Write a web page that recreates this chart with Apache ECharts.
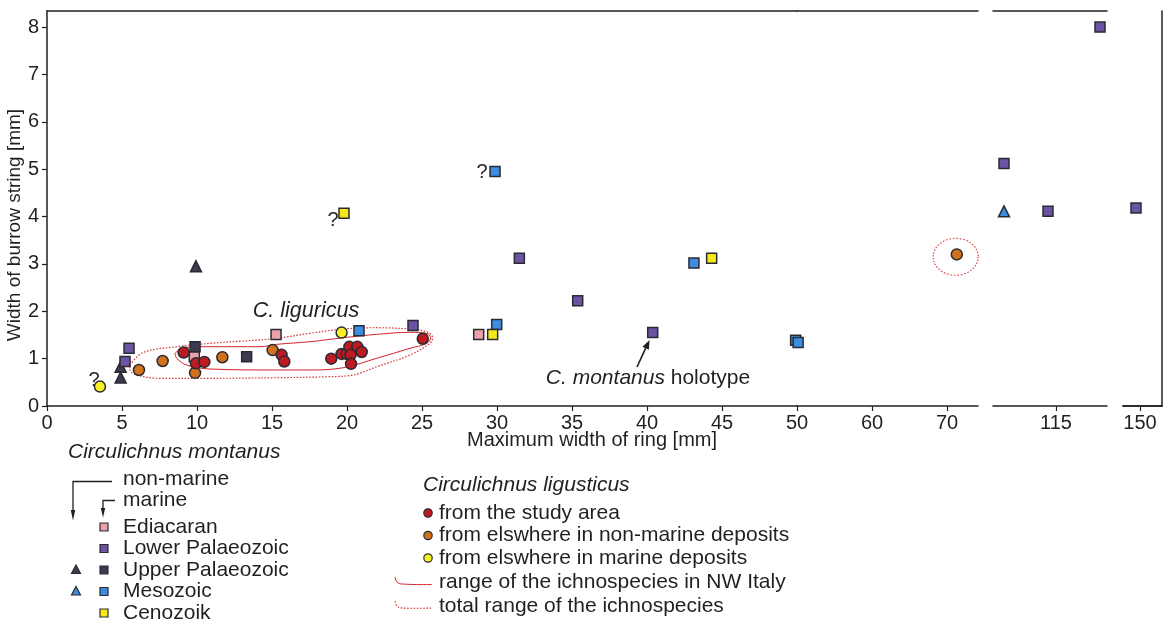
<!DOCTYPE html>
<html><head><meta charset="utf-8">
<script src="https://cdn.jsdelivr.net/npm/echarts@6/dist/echarts.min.js"></script>
<style>html,body{margin:0;padding:0;background:#fff}#c{width:1170px;height:625px}</style>
</head><body><div id="c"></div>
<script>
// ---------------- data (x = maximum width of ring [mm], y = width of burrow string [mm]) ----------------
const ediacaran = [[9.82,1.04],[15.27,1.51],[28.78,1.51]];
const lowerPalaeozoic = [[5.47,1.22],[5.2,0.94],[24.4,1.70],[31.49,3.12],[35.38,2.22],[40.38,1.55],[102,5.12],[113,4.11],[126,8.0],[148,4.18]];
const upperPalaeozoic = [[9.87,1.25],[13.31,1.04]];
const mesozoic = [[20.8,1.59],[29.98,1.72],[29.87,4.95],[43.13,3.02],[49.91,1.39],[50.15,1.34]];
const cenozoik = [[19.8,4.07],[29.71,1.51],[44.31,3.12]];
const nonMarineUpperPal = [[4.91,0.83],[4.91,0.6],[9.93,2.95]];
const nonMarineMesozoic = [[102,4.11]];
const studyArea = [[9.11,1.13],[9.93,0.90],[10.49,0.93],[15.64,1.08],[15.82,0.94],[18.95,1.0],[19.64,1.10],[19.98,1.10],[20.16,1.25],[20.69,1.25],[20.98,1.14],[20.24,1.08],[20.27,0.89],[25.05,1.42]];
const elsewhereNonMarine = [[6.13,0.76],[7.71,0.95],[9.87,0.70],[11.69,1.03],[15.04,1.18],[71.3,3.2]];
const elsewhereMarine = [[3.53,0.41],[19.64,1.55]];
const rangeNWItaly = [[8.53,1.112],[9.09,1.231],[10.87,1.252],[14.2,1.252],[15.31,1.302],[17.53,1.357],[19.75,1.442],[21.98,1.513],[24.2,1.556],[25.31,1.535],[25.58,1.442],[25.31,1.323],[24.2,1.218],[21.98,1.007],[19.75,0.808],[17.53,0.76],[15.31,0.76],[10.87,0.781],[9.31,0.865],[8.65,1.007],[8.53,1.112]];
const totalRange = [[5.53,0.865],[6.42,1.133],[8.65,1.252],[10.87,1.323],[13.09,1.372],[15.31,1.429],[17.53,1.535],[19.75,1.625],[21.98,1.653],[24.2,1.625],[25.31,1.568],[25.71,1.442],[25.53,1.323],[24.2,1.077],[21.98,0.83],[20.42,0.654],[18.65,0.618],[15.31,0.597],[10.87,0.585],[7.53,0.585],[5.98,0.654],[5.53,0.76],[5.53,0.865]];
const totalRangeOutlier = [[71.16,3.15]];
const xTicksA = [0,5,10,15,20,25,30,35,40,45,50];
const xTicksB = [60,70];
const xTicksC = [115];
const xTicksD = [150];
const yTicks = [0,1,2,3,4,5,6,7,8];

// ---------------- layout ----------------
const TXT = '#231f20';
const FONT = '"Liberation Sans", Arial, Helvetica, sans-serif';
const EDGE = '#2b2a33';
const RED = '#d2232a';
const C = {edi:'#e9a3ab', lp:'#6b54a3', up:'#3b3a4e', mes:'#3c8ce0', cen:'#f5ea18', red:'#be1a22', org:'#d1731c', yel:'#f7f123'};
const TOP = 11, H = 395, YMAX = 8.34;
const TICKFS = 20;
const SEGS = [
  {min:0, max:50, left:47, width:750, ticks:xTicksA},
  {min:50, max:74.13, left:797, width:181, ticks:xTicksB},
  {min:99.25, max:127.75, left:993, width:114, ticks:xTicksC},
  {min:141.5, max:161, left:1123, width:39, ticks:xTicksD}
];
function segOf(x){ for (let i=0;i<SEGS.length;i++){ if (x>=SEGS[i].min && x<=SEGS[i].max) return i; } return -1; }

const axisLine = {show:true, lineStyle:{color:TXT, width:1.5}};
const grid = [], xAxis = [], yAxis = [];
SEGS.forEach((s,i)=>{
  grid.push({left:s.left, top:TOP, width:s.width, height:H});
  xAxis.push({type:'value', gridIndex:i, position:'bottom', min:s.min, max:s.max,
    axisLine, splitLine:{show:false},
    axisTick:{show:true, customValues:s.ticks, length:5, lineStyle:{color:TXT, width:1.2}},
    axisLabel:{customValues:s.ticks, fontSize:TICKFS, color:TXT, fontFamily:FONT, margin:7}});
});
SEGS.forEach((s,i)=>{
  xAxis.push({type:'value', gridIndex:i, position:'top', min:s.min, max:s.max,
    axisLine, axisTick:{show:false}, axisLabel:{show:false}, splitLine:{show:false}});
});
SEGS.forEach((s,i)=>{
  if (i===0) yAxis.push({type:'value', gridIndex:0, min:0, max:YMAX, axisLine,
      splitLine:{show:false},
      axisTick:{show:true, customValues:yTicks, length:5, lineStyle:{color:TXT, width:1.2}},
      axisLabel:{customValues:yTicks, fontSize:TICKFS, color:TXT, fontFamily:FONT, margin:8}});
  else yAxis.push({type:'value', gridIndex:i, min:0, max:YMAX, show:false});
});
yAxis.push({type:'value', gridIndex:3, position:'right', min:0, max:YMAX, axisLine,
  axisTick:{show:false}, axisLabel:{show:false}, splitLine:{show:false}});

const series = [];
function addScatter(data, symbol, color, size, z){
  SEGS.forEach((s,i)=>{
    const d = data.filter(p=>segOf(p[0])===i);
    if (!d.length) return;
    series.push({type:'scatter', xAxisIndex:i, yAxisIndex:i, data:d, symbol, symbolSize:size, clip:false, z:z||2,
      itemStyle:{color, borderColor:EDGE, borderWidth:1.5, opacity:1}, emphasis:{disabled:true}});
  });
}
// range outlines
series.push({type:'line', xAxisIndex:0, yAxisIndex:0, data:totalRange, symbol:'none', smooth:0.35, z:1,
  lineStyle:{color:RED, width:1.2, type:[1.6,1.6], opacity:0.9}});
series.push({type:'line', xAxisIndex:0, yAxisIndex:0, data:rangeNWItaly, symbol:'none', smooth:0.35, z:1,
  lineStyle:{color:RED, width:1, type:'solid'}});
series.push({type:'scatter', xAxisIndex:1, yAxisIndex:1, data:totalRangeOutlier, symbol:'circle', symbolSize:[45,37], z:1, clip:false,
  itemStyle:{color:'rgba(0,0,0,0)', borderColor:RED, borderWidth:1.2, borderType:[1.6,1.6]}, emphasis:{disabled:true}});

addScatter(elsewhereNonMarine, 'circle', C.org, 11);
addScatter(elsewhereMarine, 'circle', C.yel, 11);
addScatter(nonMarineUpperPal, 'triangle', C.up, [11,11]);
addScatter(nonMarineMesozoic, 'triangle', C.mes, [11,11]);
addScatter(ediacaran, 'rect', C.edi, 10);
addScatter(upperPalaeozoic, 'rect', C.up, 10);
addScatter(lowerPalaeozoic, 'rect', C.lp, 10);
addScatter(mesozoic, 'rect', C.mes, 10);
addScatter(cenozoik, 'rect', C.cen, 10);
addScatter(studyArea, 'circle', C.red, 11, 3);

// ---------------- texts and legend ----------------
function txt(x,y,text,size,o){
  o = o||{};
  return {type:'text', x, y, rotation:o.rot||0, silent:true, z:10,
    style:{text, fill:TXT, fontSize:size, fontFamily:FONT, fontStyle:o.italic?'italic':'normal',
      textAlign:o.align||'left', textVerticalAlign:'middle', rich:o.rich}};
}
function sq(cx,cy,fill){ return {type:'rect', silent:true, shape:{x:cx-4,y:cy-4,width:8,height:8}, style:{fill, stroke:EDGE, lineWidth:1.2}}; }
function tri(cx,cy,fill){ return {type:'polygon', silent:true, shape:{points:[[cx,cy-5],[cx+4.5,cy+3.5],[cx-4.5,cy+3.5]]}, style:{fill, stroke:EDGE, lineWidth:1.2}}; }
function dot(cx,cy,fill){ return {type:'circle', silent:true, shape:{cx,cy,r:4.2}, style:{fill, stroke:EDGE, lineWidth:1.2}}; }
const LS = 21;
const rowsY = [527, 548.5, 570, 591.5, 613];
const g = [
  txt(15, 225, 'Width of burrow string [mm]', 19, {rot:Math.PI/2, align:'center'}),
  txt(592, 440, 'Maximum width of ring [mm]', 20, {align:'center'}),
  txt(94, 380, '?', 20, {align:'center'}),
  txt(482, 172, '?', 20, {align:'center'}),
  txt(333, 220, '?', 20, {align:'center'}),
  txt(306, 311, 'C. liguricus', 21.5, {italic:true, align:'center'}),
  txt(648, 378, '{i|C. montanus} holotype', 21, {align:'center', rich:{i:{fontStyle:'italic', fontSize:21, fontFamily:FONT, fill:TXT}}}),
  {type:'line', silent:true, shape:{x1:637,y1:367,x2:645.7,y2:348.2}, style:{stroke:TXT, lineWidth:1.6}},
  {type:'polygon', silent:true, shape:{points:[[649.5,340],[648.9,349.7],[642.5,346.7]]}, style:{fill:TXT}},
  // legend: C. montanus
  txt(68, 452, 'Circulichnus montanus', LS, {italic:true}),
  txt(123, 479, 'non-marine', LS),
  txt(123, 500, 'marine', LS),
  {type:'polyline', silent:true, shape:{points:[[112,481.5],[73,481.5],[73,512]]}, style:{stroke:TXT, lineWidth:1.3, fill:null}},
  {type:'polygon', silent:true, shape:{points:[[70.8,510],[75.2,510],[73,520.5]]}, style:{fill:TXT}},
  {type:'polyline', silent:true, shape:{points:[[115,500.5],[103,500.5],[103,509]]}, style:{stroke:TXT, lineWidth:1.3, fill:null}},
  {type:'polygon', silent:true, shape:{points:[[100.8,508],[105.2,508],[103,517.5]]}, style:{fill:TXT}},
  sq(104, rowsY[0], C.edi), txt(123, rowsY[0], 'Ediacaran', LS),
  sq(104, rowsY[1], C.lp), txt(123, rowsY[1], 'Lower Palaeozoic', LS),
  tri(76, rowsY[2], C.up), sq(104, rowsY[2], C.up), txt(123, rowsY[2], 'Upper Palaeozoic', LS),
  tri(76, rowsY[3], C.mes), sq(104, rowsY[3], C.mes), txt(123, rowsY[3], 'Mesozoic', LS),
  sq(104, rowsY[4], C.cen), txt(123, rowsY[4], 'Cenozoik', LS),
  // legend: C. ligusticus
  txt(423, 485, 'Circulichnus ligusticus', LS, {italic:true}),
  dot(428, 513, C.red), txt(439, 513, 'from the study area', LS),
  dot(428, 535.5, C.org), txt(439, 535.5, 'from elswhere in non-marine deposits', LS),
  dot(428, 558, C.yel), txt(439, 558, 'from elswhere in marine deposits', LS),
  {type:'polyline', silent:true, shape:{points:[[395,577],[397,582],[402,584],[432,584.5]], smooth:0.4}, style:{stroke:RED, lineWidth:1, fill:null}},
  txt(439, 582, 'range of the ichnospecies in NW Italy', LS),
  {type:'polyline', silent:true, shape:{points:[[395,601],[397,606],[402,608],[432,608]], smooth:0.4}, style:{stroke:RED, lineWidth:1.1, lineDash:[1.6,1.6], fill:null}},
  txt(439, 606, 'total range of the ichnospecies', LS)
];

const chart = echarts.init(document.getElementById('c'), null, {renderer:'canvas'});
chart.setOption({animation:false, backgroundColor:'#fff', grid, xAxis, yAxis, series, graphic:{elements:g}});
</script></body></html>
